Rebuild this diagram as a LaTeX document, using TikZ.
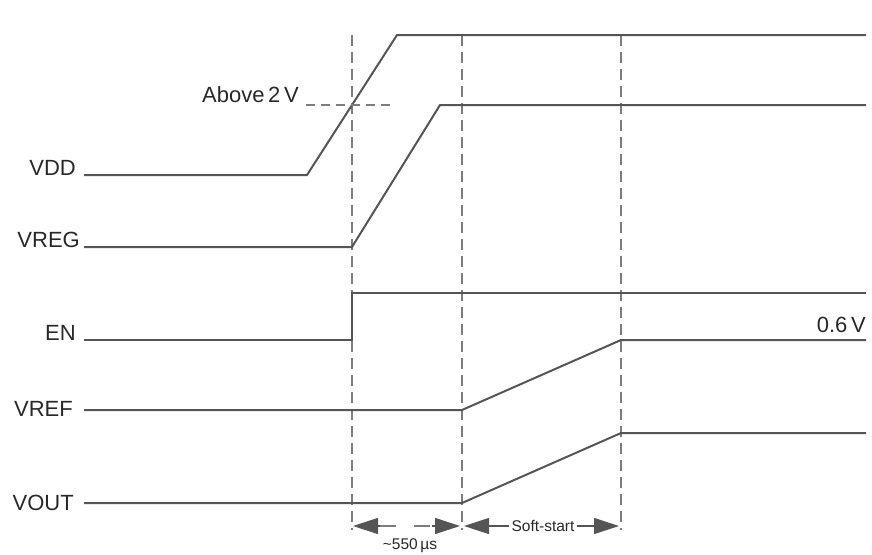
\documentclass[tikz,border=0pt]{standalone}
\usepackage{fontspec}
\setmainfont{Liberation Sans}
\usetikzlibrary{arrows.meta}
\definecolor{sigline}{RGB}{85,85,85}
\definecolor{guidegray}{RGB}{125,125,125}
\definecolor{labeltext}{RGB}{40,40,40}

\begin{document}
\begin{tikzpicture}[x=1pt, y=-1pt,
    signal/.style={draw=sigline, line width=2pt},
    guideline/.style={draw=guidegray, line width=1.8pt, dash pattern=on 11pt off 6pt},
    siglabel/.style={anchor=east, inner sep=0pt, text=labeltext, font=\fontsize{22}{26}\selectfont},
    note/.style={inner sep=2pt, text=labeltext, font=\fontsize{15.5}{18}\selectfont},
    spanarrow/.style={-{Triangle[length=25pt, width=16pt]}, draw=sigline, line width=1.2pt}
]
    \useasboundingbox (0,0) rectangle (872,554);

    % time marks
    \coordinate (t0) at (352,35);
    \coordinate (t1) at (462,35);
    \coordinate (t2) at (621,35);
    \foreach \t in {t0,t1,t2}
        \draw[guideline] (\t) -- ++(0,495);

    % signal names
    \node[siglabel] (vdd)  at (76,168) {VDD};
    \node[siglabel] (vreg) at (80,240) {VREG};
    \node[siglabel] (en)   at (76,333) {EN};
    \node[siglabel] (vref) at (73,409) {VREF};
    \node[siglabel] (vout) at (74,503) {VOUT};

    % waveforms
    \draw[signal] (84,175) -- (307,175) -- (397,35) -- (866,35);
    \draw[signal] (84,247) -- (t0 |- 0,247) -- (440,105) -- (866,105);
    \draw[signal] (84,340) -- (t0 |- 0,340) -- (t0 |- 0,293) -- (866,293);
    \draw[signal] (84,410) -- (t1 |- 0,410) -- (t2 |- 0,340) -- (866,340);
    \draw[signal] (84,503) -- (t1 |- 0,503) -- (t2 |- 0,433) -- (866,433);

    % threshold
    \node[siglabel] (thresh) at (299,95) {Above\,2\,V};
    \draw[guideline, dash pattern=on 9pt off 6pt] (306,105) -- (390,105);
    \node[siglabel] (vreflvl) at (866,325) {0.6\,V};

    % intervals
    \coordinate (dlyl) at (380,526);
    \coordinate (dlyr) at (432,526);
    \draw[guideline, dash pattern=on 16pt off 18pt] (dlyl) -- (dlyr);
    \draw[spanarrow] (dlyl) -- ([xshift=1pt]t0 |- dlyl);
    \draw[spanarrow] (dlyr) -- ([xshift=-2pt]t1 |- dlyr);
    \node[note] (dlytxt) at (410,546) {\textasciitilde550\,µs};
    \node[note] (soft) at (543,526) {Soft-start};
    \draw[spanarrow] (soft.west) -- ([xshift=2pt]t1 |- soft);
    \draw[spanarrow] (soft.east) -- ([xshift=-2pt]t2 |- soft);
\end{tikzpicture}
\end{document}
